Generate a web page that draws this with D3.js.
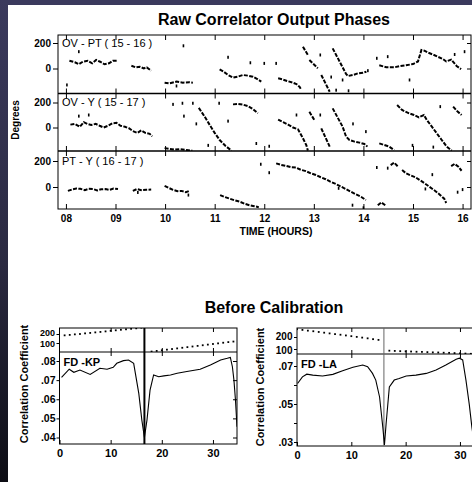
<!DOCTYPE html>
<html><head><meta charset="utf-8">
<script src="https://cdn.jsdelivr.net/npm/d3@7"></script>
<style>body{margin:0;background:#fff;overflow:hidden}svg{display:block}</style>
</head><body>
<svg id="c" width="472" height="482"></svg>
<script>
// ---------------- DATA ----------------
const hourValues = [8, 9, 10, 11, 12, 13, 14, 15, 16];
const hourLabels = ["08", "09", "10", "11", "12", "13", "14", "15", "16"];
const phaseTicks = [0, 200];
const baselineNames = ["OV - PT ( 15 - 16 )", "OV - Y ( 15 - 17 )", "PT - Y ( 16 - 17 )"];

// [hour, phase deg] runs of consecutive points, and isolated points
const runsOvPt = [
  [[8.07,61],[8.18,49],[8.26,33],[8.34,53],[8.44,61],[8.53,41],[8.61,67],[8.69,53],[8.78,33],[8.87,41],[8.95,61],[9.05,61]],
  [[9.32,22],[9.41,9],[9.49,14],[9.57,1],[9.63,9],[9.72,-17]],
  [[9.99,-111],[10.09,-116],[10.23,-103],[10.36,-111],[10.49,-108],[10.56,-111]],
  [[11.10,-7],[11.18,-25],[11.27,-51],[11.37,-72],[11.47,-64],[11.57,-51],[11.67,-56],[11.77,-64],[11.87,-85],[11.94,-103]],
  [[12.28,-77],[12.36,-85],[12.46,-98],[12.57,-110],[12.65,-122],[12.71,-143],[12.75,-168]],
  [[12.78,171],[12.88,106]],
  [[12.91,67],[13.08,2]],
  [[13.15,-51],[13.32,-182]],
  [[13.38,158],[13.52,55],[13.65,-43],[13.69,-59],[13.79,-51],[13.89,-38],[13.99,-33],[14.06,-25]],
  [[14.32,25],[14.46,10],[14.63,10],[14.73,18],[14.86,25],[15.00,35],[15.10,55],[15.17,145],[15.23,140],[15.30,125],[15.40,110],[15.50,92],[15.60,75],[15.67,55],[15.77,70],[15.88,20],[15.97,-5]]
];
const dotsOvPt = [[8.02,-129],[8.26,132],[10.37,178],[10.23,-137],[11.27,88],[11.72,45],[12.0,40],[12.24,40],[13.13,106],[13.35,-67],[13.58,-90],[13.45,-170],[13.7,-175],[14.09,-17],[14.27,80],[14.49,93],[14.93,-90],[15.84,110],[16.04,132]];

const runsOvY = [
  [[8.09,23],[8.18,29],[8.28,6],[8.36,43],[8.43,29],[8.51,20],[8.60,29],[8.68,14],[8.76,0],[8.85,14],[8.94,34],[9.02,37],[9.10,14],[9.19,6],[9.27,-6],[9.35,-29],[9.44,-43],[9.52,-23],[9.60,-43],[9.69,-51],[9.74,-71]],
  [[9.99,-165],[10.09,-171],[10.19,-177],[10.29,-173],[10.43,-180],[10.55,-185]],
  [[10.68,157],[10.80,86],[10.91,14],[11.00,-43],[11.10,-100],[11.22,-148],[11.34,-185]],
  [[11.37,185],[11.47,188],[11.57,183],[11.67,171],[11.77,148],[11.87,114]],
  [[12.28,63],[12.38,43],[12.48,23],[12.58,0],[12.68,-14],[12.78,-86],[12.85,-143],[12.88,-185]],
  [[12.91,126],[13.01,60]],
  [[13.15,-7],[13.32,-153]],
  [[13.38,153],[13.58,7],[13.65,-73],[13.72,-100],[13.82,-113],[13.92,-121],[14.02,-132],[14.08,-153]],
  [[14.32,-127],[14.42,-140],[14.52,-153],[14.62,-180]],
  [[14.68,180],[14.78,140],[14.92,113],[15.02,100],[15.12,81],[15.22,100],[15.28,60],[15.38,7],[15.48,-47],[15.58,-100],[15.68,-153],[15.78,-185]],
  [[15.81,167],[15.90,127],[15.98,100]]
];
const dotsOvY = [[8.26,91],[8.46,100],[10.16,185],[10.35,194],[10.56,194],[10.38,91],[10.63,29],[10.87,-143],[11.09,194],[11.27,51],[11.84,-128],[12.1,-150],[12.65,100],[13.13,100],[13.79,29],[14.05,-33],[14.99,-143],[15.41,-157],[15.55,167]];

const runsPtY = [
  [[8.04,-30],[8.13,-18],[8.21,-12],[8.29,-14],[8.38,-24],[8.46,-14],[8.55,-16],[8.63,-26],[8.71,-18],[8.80,-16],[8.88,-22],[8.96,-12],[9.05,-16]],
  [[9.35,-30],[9.43,-16],[9.52,-24],[9.62,-22],[9.72,-20]],
  [[9.99,8],[10.08,-8],[10.16,-22],[10.25,-32],[10.33,-30],[10.42,-40],[10.50,-28]],
  [[11.11,-62],[11.19,-75],[11.29,-88],[11.40,-102],[11.50,-112],[11.60,-128],[11.70,-140],[11.80,-148],[11.89,-155]],
  [[12.24,182],[12.34,170],[12.44,162],[12.54,152],[12.64,150],[12.74,132],[12.84,122],[12.94,105],[13.04,92],[13.14,75],[13.24,60],[13.34,40],[13.44,24],[13.54,5],[13.64,-15],[13.74,-35],[13.84,-55],[13.94,-72],[14.05,-100]],
  [[14.29,-140],[14.36,-118],[14.44,-140]],
  [[14.55,168],[14.62,188],[14.69,160]],
  [[14.78,130],[14.86,105],[14.96,88],[15.05,75],[15.13,55],[15.23,30],[15.33,2],[15.43,-25],[15.53,-55],[15.63,-90],[15.67,-123]],
  [[15.77,160],[15.84,178],[15.91,158],[15.98,125]]
];
const dotsPtY = [[9.45,-42],[10.47,-62],[11.93,175],[12.1,110],[13.5,-10],[13.78,-140],[14.0,-160],[14.27,150],[14.49,145],[15.25,-15],[15.39,95],[15.9,-40],[16.0,-20]];

// Before calibration: delay (upper strip) and correlation coefficient (lower)
const delayTicks = [100, 200];
const lagTicks = [0, 10, 20, 30];
const kpDelay = [[1,185],[2,190],[3,196],[4,200],[5,207],[6,212],[7,218],[8,223],[9,229],[10,236],[11,241],[12,247],[13,252],[14,258],[15,263],[16,270],
  [18,5],[19,12],[20,19],[21,26],[22,33],[23,40],[24,47],[25,54],[26,61],[27,68],[28,75],[29,82],[30,89],[31,96],[32,103],[33,110],[34,116]];
const kpCorr = [[0.4,.0715],[1.9,.0757],[2.8,.0741],[4.0,.0753],[6.0,.0730],[7.9,.0762],[9.3,.0757],[10.5,.0767],[11.2,.0788],[12.5,.0802],[13.5,.0805],[14.5,.0788],[15.5,.0631],[16.1,.0491],[16.6,.0400],[17.1,.0491],[17.7,.0648],[18.4,.0727],[19.4,.0718],[20.4,.0722],[21.7,.0727],[23.0,.0736],[24.9,.0745],[27.5,.0757],[29.5,.0779],[31.5,.0805],[32.8,.0814],[33.4,.0819],[33.8,.0770],[34.1,.0700],[34.4,.0596],[34.7,.0456]];
const kpCorrTicks = [.04, .05, .06, .07, .08];
const kpCorrLabels = [".04", ".05", ".06", ".07", ".08"];

const laDelay = [[0,265],[1,259],[2,253],[3,248],[4,242],[5,236],[6,230],[7,224],[8,219],[9,213],[10,207],[11,201],[12,195],[13,189],[14,182],[15,176],
  [17,86],[18,84],[19,82],[20,80],[21,79],[22,77],[23,76],[24,74],[25,72],[26,71],[27,69],[28,68],[29,66],[30,64],[31,62],[32,60]];
const laCorr = [[0.1,.0608],[1.0,.0643],[1.8,.0657],[2.9,.0652],[4.7,.0647],[6.6,.0656],[8.4,.0675],[10.3,.0693],[12.1,.0705],[13.0,.0696],[13.9,.0661],[14.5,.0626],[15.2,.0537],[15.8,.0377],[16.1,.0285],[16.4,.0395],[17.0,.0590],[17.9,.0626],[18.8,.0634],[20.1,.0647],[21.9,.0652],[23.8,.0661],[25.6,.0679],[27.4,.0705],[29.3,.0736],[29.9,.0741],[30.5,.0732],[31.1,.0626],[31.7,.0501],[32.2,.0377],[32.6,.0300]];
const laCorrTicks = [.03, .04, .05, .06, .07];
const laCorrLabels = [".03", "", ".05", "", ".07"];

// ---------------- DRAW ----------------
const svg = d3.select("#c");
const FONT = "'Liberation Sans', Arial, Helvetica, sans-serif";
const defs = svg.append("defs");
const lg = defs.append("linearGradient").attr("id", "edge").attr("x1", 0).attr("y1", 0).attr("x2", 0).attr("y2", 1);
lg.append("stop").attr("offset", 0).attr("stop-color", "#3b3a5d");
lg.append("stop").attr("offset", 0.55).attr("stop-color", "#2a2940");
lg.append("stop").attr("offset", 1).attr("stop-color", "#0d0d14");
svg.append("rect").attr("width", 472).attr("height", 482).attr("fill", "#fff");
svg.append("rect").attr("x", 0).attr("y", 0).attr("width", 472).attr("height", 5).attr("fill", "#3b3a5d");
svg.append("rect").attr("x", 0).attr("y", 0).attr("width", 8).attr("height", 482).attr("fill", "url(#edge)");

function txt(x, y, s, size, weight, anchor, rot) {
  const t = svg.append("text").attr("x", x).attr("y", y).text(s)
    .attr("font-family", FONT).attr("font-size", size).attr("font-weight", weight || "normal")
    .attr("text-anchor", anchor || "start").attr("fill", "#000");
  if (rot) t.attr("transform", `rotate(${rot},${x},${y})`);
  return t;
}
function styleAxis(g, fs) {
  g.select(".domain").remove();
  g.selectAll(".tick line").attr("stroke", "#000").attr("stroke-width", 1);
  g.selectAll(".tick text").attr("font-family", FONT).attr("font-size", fs || 10).attr("font-weight", "bold").attr("fill", "#000");
}

// ---- Raw correlator output phases ----
txt(274, 25, "Raw Correlator Output Phases", 16, "bold", "middle");
const L = 58, R = 471;
const xH = d3.scaleLinear().domain([7.84, 16.17]).range([L, R]);
const panels = [
  {top: 35, bot: 93.5, y0: 68.5, y200: 43, runs: runsOvPt, dots: dotsOvPt, name: baselineNames[0], ly: 47},
  {top: 93.5, bot: 151, y0: 127.5, y200: 102.5, runs: runsOvY, dots: dotsOvY, name: baselineNames[1], ly: 106},
  {top: 151, bot: 209, y0: 187, y200: 161, runs: runsPtY, dots: dotsPtY, name: baselineNames[2], ly: 165}
];
panels.forEach((p, i) => {
  const y = d3.scaleLinear().domain([0, 200]).range([p.y0, p.y200]);
  const cid = "clipP" + i;
  defs.append("clipPath").attr("id", cid).append("rect").attr("x", L).attr("y", p.top).attr("width", R - L).attr("height", p.bot - p.top);
  const g = svg.append("g").attr("clip-path", `url(#${cid})`);
  const line = d3.line().x(d => xH(d[0])).y(d => y(d[1]));
  g.selectAll("path.run").data(p.runs).join("path").attr("class", "run")
    .attr("d", line).attr("fill", "none").attr("stroke", "#000").attr("stroke-width", 2)
    .attr("stroke-dasharray", "4 1.4");
  g.selectAll("rect.dot").data(p.dots).join("rect").attr("class", "dot")
    .attr("x", d => xH(d[0]) - 0.8).attr("y", d => y(d[1]) - 1.5).attr("width", 1.6).attr("height", 3).attr("fill", "#000");
  const ya = svg.append("g").attr("transform", `translate(${L},0)`)
    .call(d3.axisLeft(y).tickValues(phaseTicks).tickFormat(d3.format("d")).tickSize(5).tickPadding(2));
  styleAxis(ya, 10);
  const yr = svg.append("g").attr("transform", `translate(${R},0)`)
    .call(d3.axisLeft(y).tickValues(phaseTicks).tickFormat("").tickSize(4));
  styleAxis(yr);
  const xt = svg.append("g").attr("transform", `translate(0,${p.top})`)
    .call(d3.axisTop(xH).tickValues(hourValues).tickFormat("").tickSize(-5));
  styleAxis(xt);
  const xb = svg.append("g").attr("transform", `translate(0,${p.bot})`)
    .call(d3.axisBottom(xH).tickValues(hourValues).tickFormat("").tickSize(-5));
  styleAxis(xb);
  txt(62, p.ly, p.name, 11, "normal", "start");
});
svg.append("rect").attr("x", L).attr("y", 35).attr("width", R - L).attr("height", 209 - 35)
  .attr("fill", "none").attr("stroke", "#000").attr("stroke-width", 1);
[93.5, 151].forEach(yy => svg.append("line").attr("x1", L).attr("x2", R).attr("y1", yy).attr("y2", yy)
  .attr("stroke", "#000").attr("stroke-width", 1.6));
const xAx = svg.append("g").attr("transform", "translate(0,209)")
  .call(d3.axisBottom(xH).tickValues(hourValues).tickFormat((d, i) => hourLabels[i]).tickSize(0).tickPadding(6));
styleAxis(xAx, 10);
txt(276, 235, "TIME (HOURS)", 10.5, "bold", "middle");
txt(19, 120, "Degrees", 10, "bold", "middle", -90);

// ---- Before calibration ----
txt(274, 313, "Before Calibration", 16, "bold", "middle");
function corrChart(o) {
  const x = d3.scaleLinear().domain([0, o.xMax]).range([o.left, o.right]);
  const yD = d3.scaleLinear().domain([100, 200]).range([o.d100, o.d200]);
  const yC = d3.scaleLinear().domain([o.cLo, o.cHi]).range([o.yLo, o.yHi]);
  const id = o.id;
  defs.append("clipPath").attr("id", id + "u").append("rect").attr("x", o.left).attr("y", o.top).attr("width", o.right - o.left).attr("height", o.mid - o.top);
  defs.append("clipPath").attr("id", id + "l").append("rect").attr("x", o.left).attr("y", o.mid).attr("width", o.right - o.left).attr("height", o.bot - o.mid);
  svg.append("rect").attr("x", o.left).attr("y", o.top).attr("width", o.right - o.left).attr("height", o.bot - o.top)
    .attr("fill", "none").attr("stroke", "#000").attr("stroke-width", 1);
  svg.append("line").attr("x1", o.left).attr("x2", o.right).attr("y1", o.mid).attr("y2", o.mid).attr("stroke", "#000").attr("stroke-width", 1);
  svg.append("line").attr("x1", x(o.cut)).attr("x2", x(o.cut)).attr("y1", o.top).attr("y2", o.bot)
    .attr("stroke", o.cutColor).attr("stroke-width", o.cutW);
  svg.append("g").attr("clip-path", `url(#${id}u)`).selectAll("rect").data(o.delay).join("rect")
    .attr("x", d => x(d[0]) - 0.9).attr("y", d => yD(d[1]) - 0.9).attr("width", 1.8).attr("height", 1.8).attr("fill", "#000");
  svg.append("path").attr("clip-path", `url(#${id}l)`).datum(o.corr)
    .attr("d", d3.line().x(d => x(d[0])).y(d => yC(d[1])))
    .attr("fill", "none").attr("stroke", "#000").attr("stroke-width", 1.1);
  const yl = svg.append("g").attr("transform", `translate(${o.left},0)`)
    .call(d3.axisLeft(yC).tickValues(o.cTicks).tickFormat((d, i) => o.cLabels[i]).tickSize(3).tickPadding(1));
  styleAxis(yl, 10.5);
  const yr = svg.append("g").attr("transform", `translate(${o.right},0)`)
    .call(d3.axisLeft(yC).tickValues(o.cTicks).tickFormat("").tickSize(4));
  styleAxis(yr);
  const dl = svg.append("g").attr("transform", `translate(${o.left},0)`)
    .call(d3.axisLeft(yD).tickValues(delayTicks).tickFormat(d3.format("d")).tickSize(3).tickPadding(1.5));
  styleAxis(dl, o.delayFs);
  dl.selectAll(".tick text").attr("dy", (d) => d === 200 ? "0.2em" : "0.42em");
  [o.top, o.mid].forEach(yy => {
    const a = svg.append("g").attr("transform", `translate(0,${yy})`)
      .call(d3.axisTop(x).tickValues(lagTicks.slice(1)).tickFormat("").tickSize(-4));
    styleAxis(a);
  });
  const a2 = svg.append("g").attr("transform", `translate(0,${o.mid})`)
    .call(d3.axisTop(x).tickValues(lagTicks.slice(1)).tickFormat("").tickSize(4));
  styleAxis(a2);
  const xa = svg.append("g").attr("transform", `translate(0,${o.bot})`)
    .call(d3.axisBottom(x).tickValues(lagTicks).tickSize(-4).tickPadding(5));
  styleAxis(xa, 11);
  txt(o.labX, o.labY, "Correlation Coefficient", 11, "bold", "middle", -90);
  txt(o.left + 4, o.nameY, o.name, 11, "bold", "start");
}
corrChart({id: "kp", left: 59.5, right: 237, xMax: 34.7, top: 328, mid: 352, bot: 444,
  d100: 343, d200: 334, cLo: .04, cHi: .08, yLo: 437.5, yHi: 361, delayFs: 9,
  cut: 16.6, cutColor: "#000", cutW: 2, delay: kpDelay, corr: kpCorr,
  cTicks: kpCorrTicks, cLabels: kpCorrLabels, labX: 28, labY: 384, name: "FD -KP", nameY: 366});
corrChart({id: "la", left: 297, right: 485.5, xMax: 34.7, top: 328, mid: 354, bot: 446,
  d100: 349, d200: 337, cLo: .03, cHi: .07, yLo: 442, yHi: 366, delayFs: 10,
  cut: 16.0, cutColor: "#666", cutW: 1, delay: laDelay, corr: laCorr,
  cTicks: laCorrTicks, cLabels: laCorrLabels, labX: 264, labY: 387, name: "FD -LA", nameY: 368});
</script>
</body></html>
